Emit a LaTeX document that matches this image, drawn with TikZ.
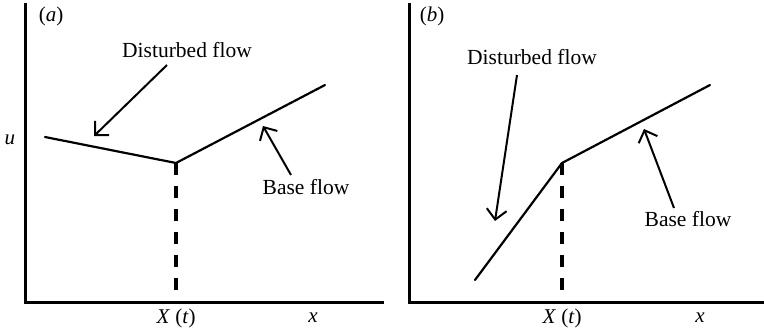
\documentclass[tikz,border=0pt]{standalone}
\usepackage{fontspec}
\setmainfont{Liberation Serif}
\usetikzlibrary{arrows.meta}
\begin{document}
\begin{tikzpicture}[x=1pt,y=-1pt,
  axis/.style={line width=3pt},
  curve/.style={line width=2.2pt,line join=round,line cap=round},
  vdash/.style={line width=3.5pt,dash pattern=on 12pt off 11pt},
  pointer/.style={line width=2pt,-{Straight Barb[length=10pt,width=20pt,line width=2pt]}},
  lbl/.style={font=\fontsize{21.5}{24}\selectfont,inner sep=0pt},
  lab/.style={font=\fontsize{21}{24}\selectfont,inner sep=0pt}]
\useasboundingbox (0,0) rectangle (764,335);
% ---------- panel (a)
\coordinate (a0) at (25,302);
\coordinate (atop) at (25,3);
\coordinate (aend) at (384,302);
\draw[axis] (atop) -- (a0) -- (aend);
\node[lab] (alabel) at (51,16) {(\textit{a})};
\node[lab] (au) at (10,140) {\textit{u}};
\coordinate (aL) at (45,137);
\coordinate (aK) at (176,163);
\coordinate (aR) at (325,85);
\coordinate (aB) at (176,302);
\draw[curve] (aL) -- (aK) -- (aR);
\draw[vdash] (aK) -- (aB);
\node[lbl] (adist) at (187,50) {Disturbed flow};
\coordinate (ad1) at (167,65);
\coordinate (ad2) at (94,136);
\draw[pointer] (ad1) -- (ad2);
\node[lbl] (abase) at (306,187) {Base flow};
\coordinate (ab1) at (291,175);
\coordinate (ab2) at (263,126);
\draw[pointer] (ab1) -- (ab2);
\node[lab] (aX) at (176,318) {\textit{X} (\textit{t})};
\node[lab] (ax) at (313,318) {\textit{x}};
% ---------- panel (b)
\coordinate (b0) at (409,302);
\coordinate (btop) at (409,3);
\coordinate (bend) at (764,302);
\draw[axis] (btop) -- (b0) -- (bend);
\node[lab] (blabel) at (432,16) {(\textit{b})};
\coordinate (bL) at (475,280);
\coordinate (bK) at (562,163);
\coordinate (bR) at (710,85);
\coordinate (bB) at (562,302);
\draw[curve] (bL) -- (bK) -- (bR);
\draw[vdash] (bK) -- (bB);
\node[lbl] (bdist) at (532,57) {Disturbed flow};
\coordinate (bd1) at (517,75);
\coordinate (bd2) at (495,221);
\draw[pointer] (bd1) -- (bd2);
\node[lbl] (bbase) at (688,219) {Base flow};
\coordinate (bb1) at (674,208);
\coordinate (bb2) at (644,129);
\draw[pointer] (bb1) -- (bb2);
\node[lab] (bX) at (562,318) {\textit{X} (\textit{t})};
\node[lab] (bx) at (700,318) {\textit{x}};
\end{tikzpicture}
\end{document}
